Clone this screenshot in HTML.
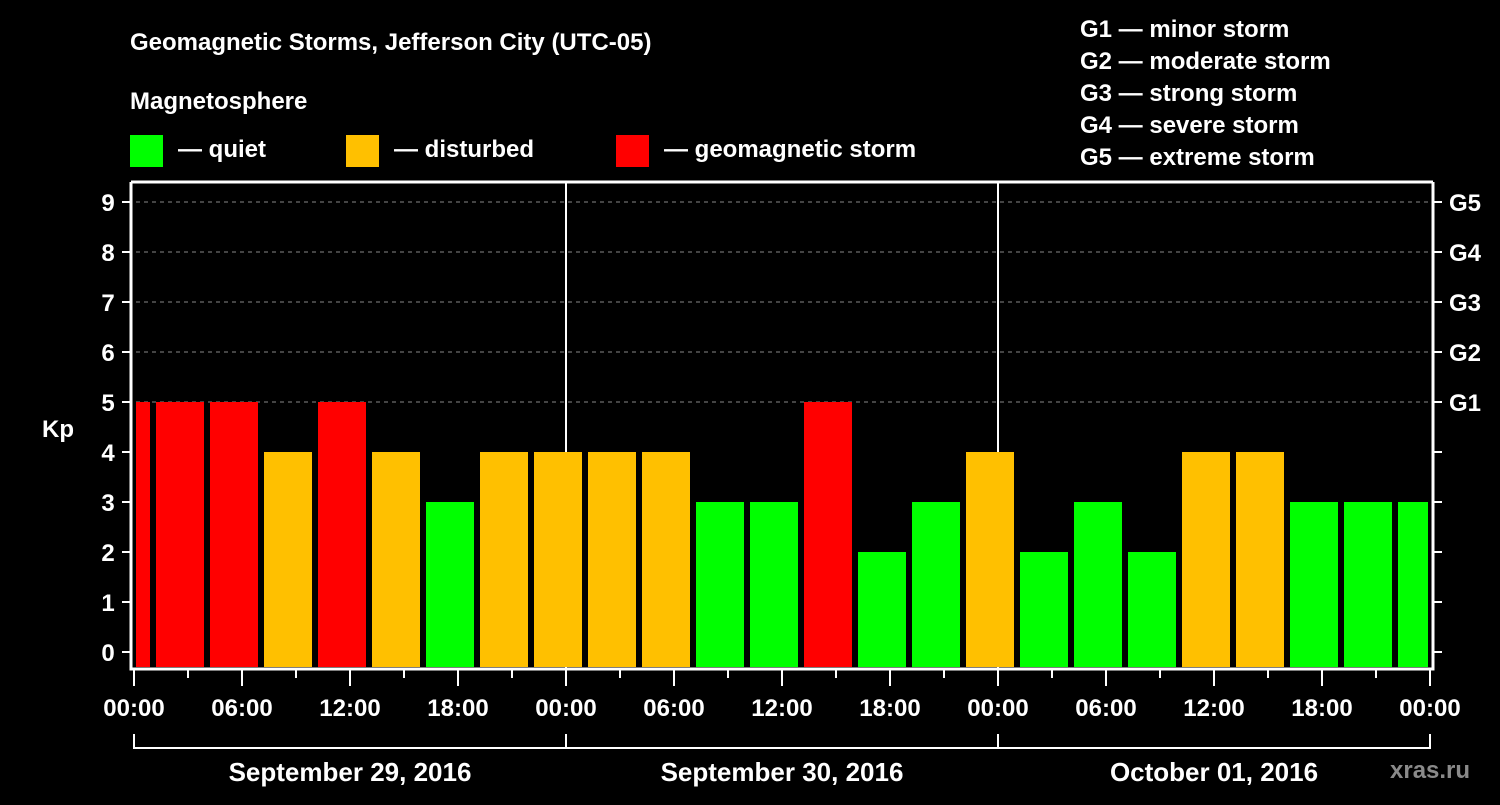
<!DOCTYPE html>
<html><head><meta charset="utf-8"><style>
body{margin:0;background:#000;width:1500px;height:800px;overflow:hidden}
svg text{font-family:"Liberation Sans",sans-serif;font-weight:bold;fill:#fff}
</style></head><body>
<svg id="chart" width="1500" height="800" xmlns="http://www.w3.org/2000/svg">
<text x="130" y="50" font-size="24">Geomagnetic Storms, Jefferson City (UTC-05)</text>
<text x="130" y="109" font-size="24">Magnetosphere</text>
<rect x="130" y="135" width="33" height="32" fill="#00ff00"/>
<text x="178" y="157" font-size="24">— quiet</text>
<rect x="346" y="135" width="33" height="32" fill="#ffc000"/>
<text x="394" y="157" font-size="24">— disturbed</text>
<rect x="616" y="135" width="33" height="32" fill="#ff0000"/>
<text x="664" y="157" font-size="24">— geomagnetic storm</text>
<g font-size="24">
<text x="1080" y="37">G1 — minor storm</text>
<text x="1080" y="69">G2 — moderate storm</text>
<text x="1080" y="101">G3 — strong storm</text>
<text x="1080" y="133">G4 — severe storm</text>
<text x="1080" y="165">G5 — extreme storm</text>
</g>
<text x="42" y="437" font-size="24">Kp</text>
<text x="1390" y="778" font-size="24" fill="#888" style="fill:#8a8a8a">xras.ru</text>
<defs><clipPath id="pc"><rect x="136" y="182" width="1292" height="486"/></clipPath></defs>
<g id="grid"></g>
<g id="bars" clip-path="url(#pc)"></g>
<g id="axes"></g>
</svg>
<script>
const kpValues=[5,5,5,4,5,4,3,4,4,4,4,3,3,5,2,3,4,2,3,2,4,4,3,3,3];
const firstBinHour=-2;
const yTicks=[0,1,2,3,4,5,6,7,8,9];
const gLabels=["G1","G2","G3","G4","G5"];
const xTickLabels=["00:00","06:00","12:00","18:00","00:00","06:00","12:00","18:00","00:00","06:00","12:00","18:00","00:00"];
const dateLabels=["September 29, 2016","September 30, 2016","October 01, 2016"];
const NS="http://www.w3.org/2000/svg";
const X0=134,PXH=18;
const xs=h=>X0+h*PXH;
const ys=k=>652-50*k;
function mk(tag,attrs,parent,txt){const e=document.createElementNS(NS,tag);for(const k in attrs)e.setAttribute(k,attrs[k]);if(txt!==undefined)e.textContent=txt;parent.appendChild(e);return e;}
const grid=document.getElementById('grid'),bars=document.getElementById('bars'),axes=document.getElementById('axes');
[5,6,7,8,9].forEach(k=>{const l=mk('line',{x1:136,x2:1430,y1:ys(k),y2:ys(k),stroke:'#888','stroke-dasharray':'4,4','stroke-width':1},grid);

});
[1,2].forEach(d=>{const l=mk('line',{x1:xs(24*d),x2:xs(24*d),y1:182,y2:668,stroke:'#fff','stroke-width':2},grid);

});
kpValues.forEach((v,i)=>{const h=firstBinHour+3*i;const c=v>=5?'#ff0000':(v>=4?'#ffc000':'#00ff00');
const r=mk('rect',{x:xs(h)+4,y:ys(v),width:48,height:ys(0)+15-ys(v),fill:c},bars);

});
// frame
const f=mk('path',{d:'M131 182 H1433 M131 182 V669 H1433 V182',stroke:'#fff','stroke-width':3,fill:'none'},axes);


yTicks.forEach(k=>{mk('line',{x1:122,x2:131,y1:ys(k),y2:ys(k),stroke:'#fff','stroke-width':2},axes);
mk('line',{x1:1433,x2:1442,y1:ys(k),y2:ys(k),stroke:'#fff','stroke-width':2},axes);
const t=mk('text',{x:108,y:ys(k)+9,'font-size':24,'text-anchor':'middle'},axes,String(k));

});
gLabels.forEach((g,i)=>{const t=mk('text',{x:1449,y:ys(5+i)+9,'font-size':24},axes,g);

});
for(let h=0;h<=72;h+=3){mk('line',{x1:xs(h),x2:xs(h),y1:669,y2:h%6==0?686:678,stroke:'#fff','stroke-width':2},axes);}
xTickLabels.forEach((s,i)=>{const t=mk('text',{x:xs(6*i),y:716,'font-size':24,'text-anchor':'middle'},axes,s);

});
mk('path',{d:'M'+xs(0)+' 748 H'+xs(72),stroke:'#fff','stroke-width':2},axes);
for(let d=0;d<=3;d++)mk('line',{x1:xs(24*d),x2:xs(24*d),y1:734,y2:749,stroke:'#fff','stroke-width':2},axes);
dateLabels.forEach((s,i)=>{const t=mk('text',{x:xs(24*i+12),y:781,'font-size':26,'text-anchor':'middle'},axes,s);

});
</script>
</body></html>
